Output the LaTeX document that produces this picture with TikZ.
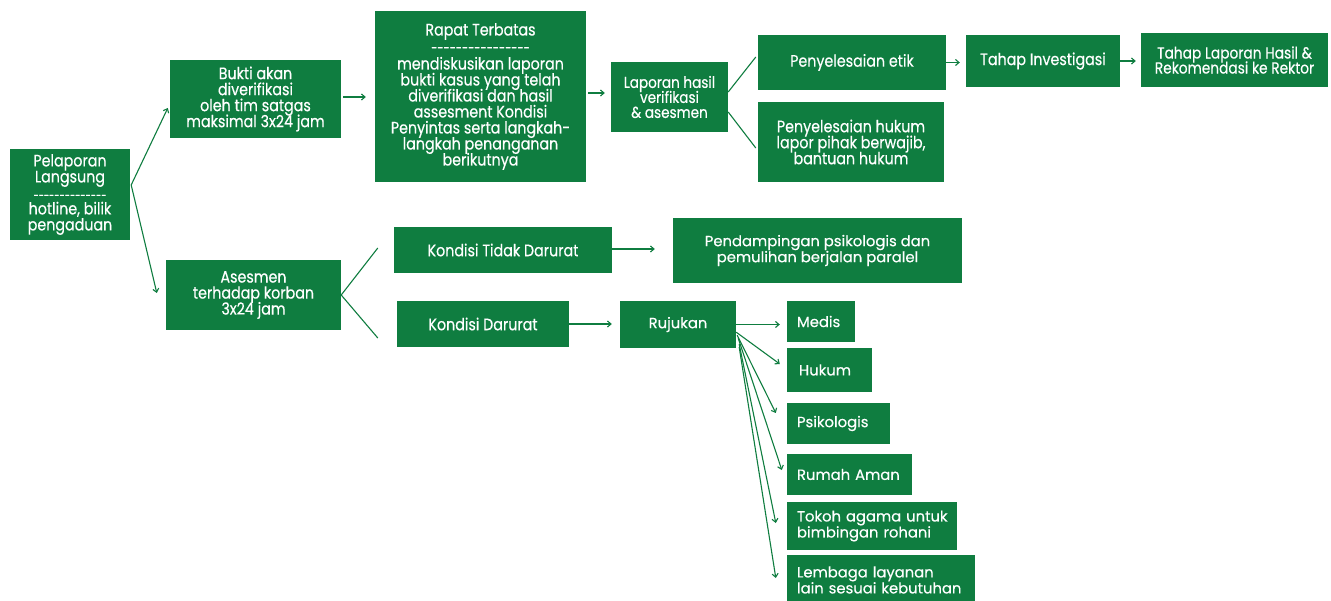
\documentclass[tikz,border=0pt]{standalone}
\usepackage{fontspec}
\setmainfont{Poppins}[FakeBold=0.4]
\newfontfamily\cond{Poppins}[FakeStretch=0.86,FakeBold=0.4]
\usetikzlibrary{calc,arrows.meta}
\definecolor{gr}{RGB}{15,125,64}
\newcommand\dashrow[2]{{\fontsize{#2}{#2}\selectfont\foreach \k in {1,...,#1}{-\kern0pt}}}
\newcommand\nls{\lineskiplimit-20pt\relax}
\begin{document}
\begin{tikzpicture}[x=1pt,y=-1pt,
  box/.style={fill=gr,text=white,align=center,inner sep=0pt,font=\cond\fontsize{16.6}{16}\selectfont\nls},
  wbox/.style={fill=gr,text=white,align=center,inner sep=0pt,font=\fontsize{14.8}{16}\selectfont\nls},
  lbox/.style={fill=gr,text=white,align=left,inner xsep=10pt,inner ysep=0pt,font=\fontsize{14.8}{16}\selectfont\nls},
  ln/.style={draw=gr,line width=1.1pt},
  arr/.style={ln,-{Straight Barb[length=3.5pt,width=6pt]}}]
\useasboundingbox[fill=white] (0,0) rectangle (1331,601);

\node[box,minimum width=120,minimum height=91] (pel) at (70,194.5)
  {Pelaporan\\Langsung\\[1pt]\dashrow{14}{11}\\[-1pt]hotline, bilik\\pengaduan};
\node[box,minimum width=171,minimum height=78] (bukti) at (255.5,99)
  {Bukti akan\\diverifikasi\\oleh tim satgas\\maksimal 3x24 jam};
\node[box,minimum width=211,minimum height=171] (rapat) at (480.5,96.5)
  {Rapat Terbatas\\[1pt]\dashrow{16}{13}\\[1pt]mendiskusikan laporan\\bukti kasus yang telah\\diverifikasi dan hasil\\assesment Kondisi\\Penyintas serta langkah-\\langkah penanganan\\berikutnya};
\node[box,minimum width=117,minimum height=70,font=\cond\fontsize{15.8}{15}\selectfont\nls] (lap) at (669.5,97)
  {Laporan hasil\\verifikasi\\\& asesmen};
\node[box,minimum width=188,minimum height=55] (etik) at (852,62.5) {Penyelesaian etik};
\node[box,minimum width=186,minimum height=80] (hukum) at (851,142)
  {Penyelesaian hukum\\lapor pihak berwajib,\\bantuan hukum};
\node[box,minimum width=154,minimum height=52] (inv) at (1043,61) {Tahap Investigasi};
\node[box,minimum width=187,minimum height=54,font=\cond\fontsize{16}{15}\selectfont\nls] (rek) at (1234.5,60)
  {Tahap Laporan Hasil \&\\Rekomendasi ke Rektor};
\node[box,minimum width=175,minimum height=70] (ases) at (253.5,295)
  {Asesmen\\terhadap korban\\3x24 jam};
\node[box,minimum width=218,minimum height=46] (ktd) at (503,250) {Kondisi Tidak Darurat};
\node[box,minimum width=172,minimum height=46] (kd) at (483,324) {Kondisi Darurat};
\node[wbox,minimum width=289,minimum height=65] (pend) at (817.5,250.5)
  {Pendampingan psikologis dan\\pemulihan berjalan paralel};
\node[wbox,minimum width=116,minimum height=47] (ruj) at (678,324.5) {Rujukan};
\node[lbox,text width=48,minimum height=41] (medis) at (821,321.5) {Medis};
\node[lbox,minimum height=44,inner xsep=12pt,text width=61] (hk) at (829.5,370) {Hukum};
\node[lbox,text width=83,minimum height=41] (psi) at (838.5,423.5) {Psikologis};
\node[lbox,text width=105,minimum height=41] (ra) at (849.5,474.5) {Rumah Aman};
\node[lbox,text width=150,minimum height=48] (tok) at (872,526) {\mbox{Tokoh agama untuk}\\\mbox{bimbingan rohani}};
\node[lbox,text width=168,minimum height=50] (lem) at (881,580) {\mbox{Lembaga layanan}\\\mbox{lain sesuai kebutuhan}};

\draw[arr] ($(pel.east)+(1pt,9.5pt)$) -- ($(bukti.west)+(-2pt,-9pt)$);
\draw[arr] ($(pel.east)+(1pt,9.5pt)$) -- ($(ases.west)+(-9pt,2pt)$);
\draw[arr] ($(bukti.east)+(2pt,2pt)$) -- ($(rapat.west|-bukti.east)+(-9pt,2pt)$);
\draw[arr] ($(rapat.east|-lap.west)+(2pt,4pt)$) -- ($(lap.west)+(-6pt,4pt)$);
\draw[ln] ($(lap.east)+(0,5pt)$) -- ($(etik.west)+(-2pt,5.5pt)$);
\draw[ln] ($(lap.east)+(0,-15pt)$) -- ($(hukum.west)+(-2pt,-6pt)$);
\draw[arr] (etik.east) -- ($(inv.west|-etik.east)+(-6pt,0)$);
\draw[arr] (inv.east) -- ($(rek.west|-inv.east)+(-5pt,0)$);
\draw[ln] (ases.east) -- ($(ktd.west)+(-16pt,2pt)$);
\draw[ln] (ases.east) -- ($(kd.west)+(-19pt,-14pt)$);
\draw[arr] ($(ktd.east)+(0,1pt)$) -- ($(pend.west|-ktd.east)+(-18pt,1pt)$);
\draw[arr] (kd.east) -- ($(ruj.west|-kd.east)+(-8pt,0)$);
\draw[arr] (ruj.east) -- ($(medis.west|-ruj.east)+(-7pt,0)$);
\draw[arr] ($(ruj.south east)+(0,16pt)$) -- ($(hk.west)+(-7pt,6pt)$);
\draw[arr] ($(ruj.south east)+(1pt,13pt)$) -- ($(psi.west)+(-11pt,10.5pt)$);
\draw[arr] ($(ruj.south east)+(2pt,10pt)$) -- ($(ra.west)+(-5pt,4.5pt)$);
\draw[arr] ($(ruj.south east)+(3pt,4pt)$) -- ($(tok.west)+(-11pt,3pt)$);
\draw[arr] ($(ruj.south east)+(3pt,1pt)$) -- ($(lem.west)+(-11pt,2pt)$);
\end{tikzpicture}
\end{document}
